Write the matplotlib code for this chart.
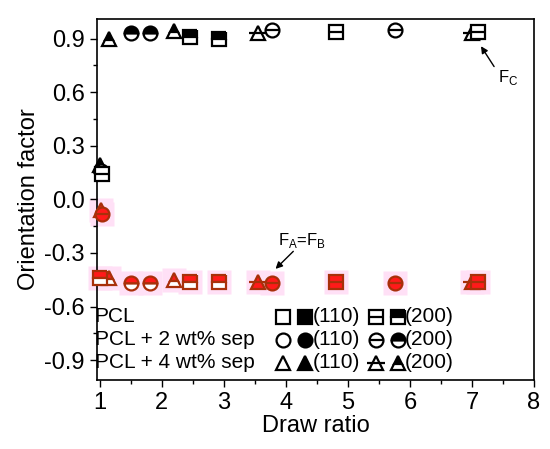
import matplotlib
matplotlib.use("Agg")
import matplotlib.pyplot as plt

plt.rcParams["font.family"] = ["Liberation Sans", "DejaVu Sans"]

# F_C (black) points: draw ratio, orientation factor, per marker style
fc_tri_200f_x = [1.0, 1.15, 2.2]
fc_tri_200f_y = [0.19, 0.90, 0.94]
fc_circ_200f_x = [1.5, 1.8]
fc_circ_200f_y = [0.93, 0.93]
fc_sq_200f_x = [2.45, 2.92]
fc_sq_200f_y = [0.91, 0.90]
fc_tri_200o_x = [3.55, 7.0]
fc_tri_200o_y = [0.93, 0.93]
fc_circ_200o_x = [1.02, 3.77, 5.75]
fc_circ_200o_y = [0.16, 0.95, 0.95]
fc_sq_200o_x = [1.03, 4.8, 7.1]
fc_sq_200o_y = [0.14, 0.935, 0.935]

# F_A = F_B (red) points
fa_tri_200f_x = [1.02, 1.15, 2.2]
fa_tri_200f_y = [-0.06, -0.44, -0.45]
fa_circ_200f_x = [1.5, 1.8]
fa_circ_200f_y = [-0.47, -0.47]
fa_sq_200f_x = [1.0, 2.45, 2.92]
fa_sq_200f_y = [-0.44, -0.46, -0.46]
fa_tri_200o_x = [3.55, 7.0]
fa_tri_200o_y = [-0.46, -0.46]
fa_circ_200o_x = [1.03, 3.77, 5.75]
fa_circ_200o_y = [-0.08, -0.47, -0.47]
fa_sq_200o_x = [4.8, 7.1]
fa_sq_200o_y = [-0.46, -0.46]

legend_rows = ["PCL", "PCL + 2 wt% sep", "PCL + 4 wt% sep"]
legend_shapes = ["s", "o", "^"]

MS = 10


def mark(ax, x, y, shape, filled, split, color="black", edge="black", **kw):
    if filled:
        if split:
            ax.plot(x, y, ls="none", marker=shape, ms=MS, mec=edge, mew=1.6,
                    mfc=color, fillstyle="top", markerfacecoloralt="white",
                    clip_on=False, **kw)
        else:
            ax.plot(x, y, ls="none", marker=shape, ms=MS, mec=edge, mew=1.6,
                    mfc=color, clip_on=False, **kw)
    else:
        ax.plot(x, y, ls="none", marker=shape, ms=MS, mec=edge, mew=1.6,
                mfc="white" if color == "black" else color, clip_on=False, **kw)
        if split:
            w = MS * 1.3 if shape == "^" else MS
            ax.plot(x, y, ls="none", marker="_", ms=w, mec=edge, mew=1.6,
                    clip_on=False, **kw)


fig = plt.figure(figsize=(5.5, 4.49), dpi=100)
ax = fig.add_axes([0.176, 0.154, 0.795, 0.804])

black = [
    (fc_tri_200f_x, fc_tri_200f_y, "^", True),
    (fc_circ_200f_x, fc_circ_200f_y, "o", True),
    (fc_sq_200f_x, fc_sq_200f_y, "s", True),
    (fc_tri_200o_x, fc_tri_200o_y, "^", False),
    (fc_circ_200o_x, fc_circ_200o_y, "o", False),
    (fc_sq_200o_x, fc_sq_200o_y, "s", False),
]
red = [
    (fa_tri_200f_x, fa_tri_200f_y, "^", True),
    (fa_circ_200f_x, fa_circ_200f_y, "o", True),
    (fa_sq_200f_x, fa_sq_200f_y, "s", True),
    (fa_tri_200o_x, fa_tri_200o_y, "^", False),
    (fa_circ_200o_x, fa_circ_200o_y, "o", False),
    (fa_sq_200o_x, fa_sq_200o_y, "s", False),
]

# pink halo behind the red points
for xs, ys, shape, filled in red:
    ax.plot(xs, ys, ls="none", marker="s", ms=17, mfc="#ffe0f6", mec="none",
            clip_on=False, zorder=1)
for xs, ys, shape, filled in red:
    mark(ax, xs, ys, shape, filled, True, color="#ff1a1a", edge="#a8300a", zorder=3)
for xs, ys, shape, filled in black:
    mark(ax, xs, ys, shape, filled, True, zorder=3)

# legend built by hand
tr = ax.transAxes
row_y = [0.175, 0.111, 0.047]
for label, shape, yy in zip(legend_rows, legend_shapes, row_y):
    ax.text(-0.005, yy, label, transform=tr, fontsize=15, va="center", ha="left")
    mark(ax, [0.426], [yy], shape, False, False, transform=tr)
    mark(ax, [0.476], [yy], shape, True, False, transform=tr)
    ax.text(0.493, yy, "(110)", transform=tr, fontsize=15, va="center", ha="left")
    mark(ax, [0.638], [yy], shape, False, True, transform=tr)
    mark(ax, [0.689], [yy], shape, True, True, transform=tr)
    ax.text(0.704, yy, "(200)", transform=tr, fontsize=15, va="center", ha="left")

ax.annotate("", xy=(7.12, 0.87), xytext=(7.38, 0.73),
            arrowprops=dict(arrowstyle="-|>", color="black", lw=1, mutation_scale=10))
ax.text(7.42, 0.68, r"F$_\mathregular{C}$", fontsize=12, ha="left", va="center")
ax.annotate("", xy=(3.8, -0.40), xytext=(4.15, -0.28),
            arrowprops=dict(arrowstyle="-|>", color="black", lw=1, mutation_scale=10))
ax.text(4.25, -0.23, r"F$_\mathregular{A}$=F$_\mathregular{B}$", fontsize=12,
        ha="center", va="center")

ax.set_xlim(0.95, 8.0)
ax.set_ylim(-1.01, 1.01)
ax.set_xticks(range(1, 9))
ax.set_xticks([x + 0.5 for x in range(1, 8)], minor=True)
ax.set_yticks([-0.9, -0.6, -0.3, 0.0, 0.3, 0.6, 0.9])
ax.set_yticks([-0.75, -0.45, -0.15, 0.15, 0.45, 0.75], minor=True)
ax.yaxis.set_major_formatter(matplotlib.ticker.FormatStrFormatter("%.1f"))
ax.tick_params(which="major", direction="out", length=5, width=1, labelsize=17)
ax.tick_params(which="minor", direction="out", length=3, width=1)
for s in ax.spines.values():
    s.set_linewidth(1.2)
ax.set_xlabel("Draw ratio", fontsize=17, labelpad=1)
ax.set_ylabel("Orientation factor", fontsize=17, labelpad=3)

fig.savefig("out.png", dpi=100)
